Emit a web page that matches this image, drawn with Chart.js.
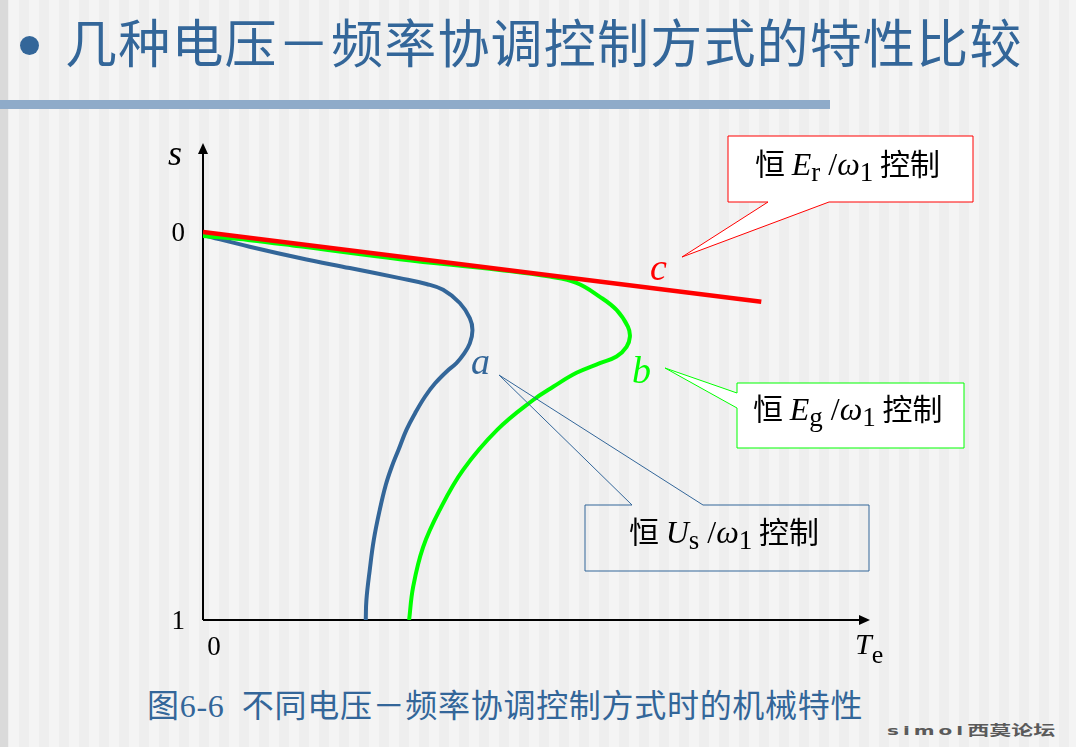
<!DOCTYPE html>
<html><head><meta charset="utf-8">
<script src="https://cdn.jsdelivr.net/npm/chart.js@4.4.1/dist/chart.umd.min.js"></script>
<style>
html,body{margin:0;padding:0;}
body{width:1076px;height:747px;overflow:hidden;position:relative;
 background:linear-gradient(to right,#dadada 0 8px,transparent 8px),
 repeating-linear-gradient(to right,#eeeeee 0 9px,#f4f4f4 9px 19px,#eeeeee 19px 20px);}
#bullet{position:absolute;left:20px;top:36px;width:19px;height:19px;border-radius:50%;background:#336699;}
#title{position:absolute;left:65px;top:15px;font:52px/52px "Noto Sans CJK SC";letter-spacing:1.2px;color:#336699;white-space:nowrap;}
#bar{position:absolute;left:0;top:100px;width:830px;height:9px;background:#8fabc9;}
#caption{position:absolute;left:147px;top:690px;font:32px/32px "Liberation Serif","Noto Sans CJK SC";letter-spacing:0.7px;color:#336699;white-space:pre;}
#wm{position:absolute;left:887px;top:716px;color:#5a5a5a;white-space:nowrap;transform:scaleY(0.6);transform-origin:left center;}
#wm .l{font:bold 20px/24px "DejaVu Sans";letter-spacing:4px;}
#wm .c{font:bold 22px/24px "Noto Sans CJK SC";}
canvas{position:absolute;left:0;top:0;}
</style></head>
<body>
<div id="bullet"></div>
<div id="title">几种电压－频率协调控制方式的特性比较</div>
<div id="bar"></div>
<div id="caption">图6-6  不同电压－频率协调控制方式时的机械特性</div>
<div id="wm"><span class="l">simol</span><span class="c">西莫论坛</span></div>
<canvas id="c" width="1076" height="747"></canvas>
<script>
// ---- data (Te in relative units 0..100, slip s 0..1) ----
const curveC_Te = [0, 83.7];
const curveC_s  = [0, 0.180];

const curveA_Te = [0, 7.0, 14.5, 22.0, 29.5, 33.5, 36.0, 38.5, 40.0, 40.4, 40.0, 39.0, 38.0, 36.5, 34.8, 33.3, 31.8, 30.5, 29.3, 28.3, 27.4, 26.5, 25.6, 25.0, 24.5, 24.4];
const curveA_s  = [0.008, 0.038, 0.067, 0.093, 0.119, 0.134, 0.149, 0.183, 0.222, 0.253, 0.287, 0.317, 0.338, 0.360, 0.390, 0.424, 0.467, 0.510, 0.562, 0.605, 0.652, 0.716, 0.794, 0.871, 0.948, 1.0];

const curveB_Te = [0, 7.0, 14.5, 29.5, 44.5, 52.0, 56.0, 59.5, 62.0, 63.7, 64.0, 63.5, 62.0, 59.5, 56.0, 52.5, 49.5, 44.1, 39.0, 35.5, 33.0, 31.5, 30.9];
const curveB_s  = [0.010, 0.021, 0.037, 0.070, 0.098, 0.115, 0.131, 0.167, 0.201, 0.244, 0.270, 0.296, 0.321, 0.338, 0.363, 0.399, 0.433, 0.510, 0.613, 0.716, 0.812, 0.915, 1.0];

const yTickValues = [0, 1];
const xTickValues = [0];

const pts = (xs, ys) => xs.map((x, i) => ({x, y: ys[i]}));

const SERIF = '"Liberation Serif"';
const CJK = '"Noto Sans CJK SC"';

function rich(ctx, x, y, segs, color){
  ctx.fillStyle = color || '#000';
  ctx.textBaseline = 'alphabetic';
  ctx.textAlign = 'left';
  for (const s of segs){
    ctx.font = s.f;
    ctx.fillText(s.t, x, y + (s.dy || 0));
    x += ctx.measureText(s.t).width;
  }
}
function calloutSegs(main, sub){
  return [
    {t:'恒 ', f:'30px ' + CJK},
    {t:main, f:'italic 32px ' + SERIF},
    {t:sub, f:'27px ' + SERIF, dy:6},
    {t:' /', f:'32px ' + SERIF},
    {t:'ω', f:'italic 32px ' + SERIF},
    {t:'1', f:'27px ' + SERIF, dy:6},
    {t:' 控制', f:'30px ' + CJK}
  ];
}
function poly(ctx, p, fill, stroke){
  ctx.beginPath();
  ctx.moveTo(p[0][0], p[0][1]);
  for (let i = 1; i < p.length; i++) ctx.lineTo(p[i][0], p[i][1]);
  ctx.closePath();
  if (fill){ ctx.fillStyle = fill; ctx.fill(); }
  ctx.lineWidth = 1; ctx.strokeStyle = stroke; ctx.stroke();
}

const overlay = {
  id: 'overlay',
  beforeDatasetsDraw(chart){
    const ctx = chart.ctx, a = chart.chartArea;
    const x0 = chart.scales.x.getPixelForValue(0);
    const yb = chart.scales.y.getPixelForValue(1);
    ctx.save();
    ctx.strokeStyle = '#000'; ctx.fillStyle = '#000'; ctx.lineWidth = 2;
    ctx.beginPath();
    ctx.moveTo(x0, yb); ctx.lineTo(x0, a.top + 6);
    ctx.moveTo(x0, yb); ctx.lineTo(a.right - 6, yb);
    ctx.stroke();
    ctx.beginPath();
    ctx.moveTo(x0, a.top - 2); ctx.lineTo(x0 - 5, a.top + 9); ctx.lineTo(x0 + 5, a.top + 9); ctx.closePath(); ctx.fill();
    ctx.beginPath();
    ctx.moveTo(a.right, yb); ctx.lineTo(a.right - 11, yb - 5); ctx.lineTo(a.right - 11, yb + 5); ctx.closePath(); ctx.fill();
    // axis titles
    rich(ctx, 168, 165, [{t:'s', f:'italic 36px ' + SERIF}]);
    rich(ctx, 855, 654, [{t:'T', f:'italic 30px ' + SERIF}, {t:'e', f:'26px ' + SERIF, dy:9}]);
    ctx.restore();
  },
  afterDatasetsDraw(chart){
    const ctx = chart.ctx;
    ctx.save();
    // callout c (red)
    poly(ctx, [[728,136],[973,136],[973,202],[829,202],[682,257],[768,202],[728,202]], '#ffffff', '#ff0000');
    rich(ctx, 755, 175, calloutSegs('E', 'r'));
    // callout b (green)
    poly(ctx, [[737,383],[964,383],[964,448],[737,448],[737,408],[665,368],[737,393]], '#ffffff', '#00ff00');
    rich(ctx, 753, 420, calloutSegs('E', 'g'));
    // callout a (blue)
    poly(ctx, [[585,505],[632,505],[499,375],[703,505],[869,505],[869,571],[585,571]], null, '#336699');
    rich(ctx, 629, 543, calloutSegs('U', 's'));
    // curve letters
    rich(ctx, 471, 374, [{t:'a', f:'italic 38px ' + SERIF}], '#336699');
    rich(ctx, 632, 383, [{t:'b', f:'italic 38px ' + SERIF}], '#00ff00');
    rich(ctx, 650, 280, [{t:'c', f:'italic 38px ' + SERIF}], '#ff0000');
    ctx.restore();
  }
};

new Chart(document.getElementById('c'), {
  type: 'line',
  data: {
    datasets: [
      {label:'c', data: pts(curveC_Te, curveC_s), borderColor:'#ff0000', borderWidth:4.5, tension:0, pointRadius:0, borderCapStyle:'butt'},
      {label:'b', data: pts(curveB_Te, curveB_s), borderColor:'#00ff00', borderWidth:4, tension:0.4, pointRadius:0},
      {label:'a', data: pts(curveA_Te, curveA_s), borderColor:'#336699', borderWidth:4, tension:0.4, pointRadius:0}
    ]
  },
  options: {
    responsive: false, devicePixelRatio: 1, animation: false,
    layout: {padding: {left: 150, right: 206, top: 145, bottom: 67}},
    plugins: {legend: {display: false}, tooltip: {enabled: false}},
    scales: {
      x: {
        type: 'linear', min: 0, max: 100,
        grid: {display: false, drawTicks: false}, border: {display: false},
        afterBuildTicks: s => { s.ticks = xTickValues.map(v => ({value: v})); },
        afterFit: s => { s.height = 60; },
        ticks: {color: '#000', font: {family: 'Liberation Serif', size: 27}, padding: 12, labelOffset: 11, maxRotation: 0, autoSkip: false}
      },
      y: {
        type: 'linear', reverse: true, min: -0.2242, max: 1,
        grid: {display: false, drawTicks: false}, border: {display: false},
        afterBuildTicks: s => { s.ticks = yTickValues.map(v => ({value: v})); },
        afterFit: s => { s.width = 53; },
        ticks: {color: '#000', font: {family: 'Liberation Serif', size: 27}, padding: 18, labelOffset: 2, autoSkip: false}
      }
    }
  },
  plugins: [overlay]
});
</script>
</body></html>
